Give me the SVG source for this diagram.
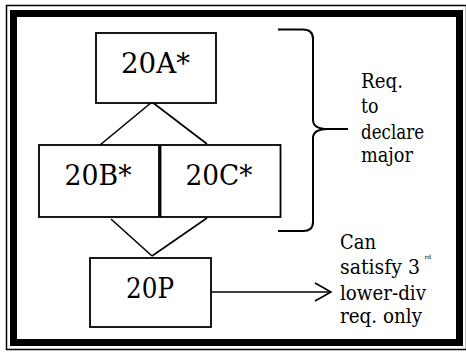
<svg xmlns="http://www.w3.org/2000/svg" width="466" height="352" viewBox="0 0 466 352">
<style>
.box{fill:#fff;stroke:#000;stroke-width:1.8}
text{font-family:"DejaVu Serif",serif;fill:#000}
.big{font-size:28px;text-anchor:middle}
.note{font-size:20px}
.ln{fill:none;stroke:#000;stroke-width:1.6}
</style>
<rect width="466" height="352" fill="#fff"/>
<g id="frame">
<rect x="6.5" y="5.5" width="460" height="344" fill="none" stroke="#000" stroke-width="1.5"/>
<rect x="13.5" y="13.5" width="446" height="329" fill="none" stroke="#000" stroke-width="7"/>
</g>
<g id="connectors">
<line class="ln" x1="152" y1="102" x2="100" y2="145"/>
<line class="ln" x1="152" y1="102" x2="207" y2="144"/>
<line class="ln" x1="111" y1="219" x2="152" y2="256"/>
<line class="ln" x1="207" y1="218" x2="152" y2="256"/>
<line class="ln" x1="210" y1="292" x2="331" y2="292"/>
<polyline class="ln" points="315,283 331,292 315,301"/>
</g>
<g id="node-20A">
<rect class="box" x="96" y="33" width="120" height="70"/>
<text class="big" x="155.5" y="73" textLength="69" lengthAdjust="spacingAndGlyphs">20A*</text>
</g>
<g id="node-20B">
<rect class="box" x="39" y="145" width="120" height="72"/>
<text class="big" x="98" y="185" textLength="67" lengthAdjust="spacingAndGlyphs">20B*</text>
</g>
<g id="node-20C">
<rect class="box" x="160.5" y="145" width="120" height="72"/>
<text class="big" x="219" y="185" textLength="67" lengthAdjust="spacingAndGlyphs">20C*</text>
</g>
<g id="node-20P">
<rect class="box" x="90" y="258" width="121" height="69"/>
<text class="big" x="150" y="298" textLength="48" lengthAdjust="spacingAndGlyphs">20P</text>
</g>
<g id="brace">
<path d="M278 29.5 L303 29.5 Q313 29.5 313 39 L313 120 Q313 129 328 129 L348 129 M328 129 Q313 129 313 138 L313 222 Q313 231 303 231 L278 231" fill="none" stroke="#000" stroke-width="2"/>
</g>
<g id="label-declare">
<text class="note" x="361" y="88" textLength="42" lengthAdjust="spacingAndGlyphs">Req.</text>
<text class="note" x="361" y="112.5" textLength="17.5" lengthAdjust="spacingAndGlyphs">to</text>
<text class="note" x="361" y="138.5" textLength="63" lengthAdjust="spacingAndGlyphs">declare</text>
<text class="note" x="361" y="162" textLength="52" lengthAdjust="spacingAndGlyphs">major</text>
</g>
<g id="label-20P">
<text class="note" x="340" y="248.5" textLength="36" lengthAdjust="spacingAndGlyphs">Can</text>
<text class="note" x="340" y="273.5" textLength="80" lengthAdjust="spacingAndGlyphs">satisfy 3</text>
<text x="424.5" y="259" font-size="6">rd</text>
<text class="note" x="340" y="299.5" textLength="86" lengthAdjust="spacingAndGlyphs">lower-div</text>
<text class="note" x="340" y="323" textLength="82" lengthAdjust="spacingAndGlyphs">req. only</text>
</g>
</svg>
